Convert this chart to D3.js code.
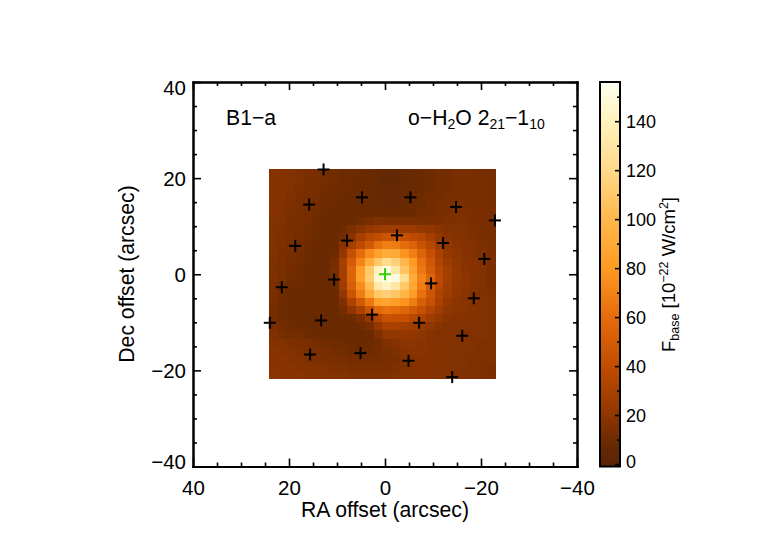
<!DOCTYPE html>
<html>
<head>
<meta charset="utf-8">
<script src="https://d3js.org/d3.v7.min.js"></script>
<style>
  body { margin: 0; background: #fff; }
  text { font-family: "Liberation Sans", Arial, sans-serif; fill: #000; }
</style>
</head>
<body>
<svg id="draw" width="770" height="550"></svg>
<script>
// flux map, rows run top to bottom (north first), columns run RA high to low
const flux = [
  [17,17,16,15,14,13,12,11,10,10,9,8,7,6,6,7,8,9,10,11,12,13,14,13,12,12],
  [17,17,16,15,14,13,12,11,10,9,9,8,7,6,6,7,8,9,10,11,12,13,14,13,13,12],
  [17,17,16,14,14,13,11,10,10,9,8,8,7,7,7,8,8,9,10,11,12,13,14,14,13,12],
  [17,17,15,14,13,12,10,10,9,9,8,8,7,7,7,8,9,10,11,12,13,14,14,14,13,12],
  [17,16,15,14,13,11,10,9,9,8,8,8,8,7,7,8,9,10,12,13,14,14,14,14,13,12],
  [17,16,15,13,12,11,9,9,8,8,8,8,9,9,9,9,9,11,12,13,14,15,15,14,14,13],
  [16,16,14,13,12,10,9,8,8,8,11,13,15,14,14,14,14,14,14,14,15,15,15,14,14,13],
  [16,15,14,13,11,10,8,8,10,14,18,22,24,26,26,25,24,22,20,18,16,16,16,15,14,13],
  [16,15,14,12,11,9,8,8,11,18,28,36,40,45,45,42,38,35,28,22,18,17,16,15,14,13],
  [16,15,13,12,10,9,8,9,18,28,38,48,62,68,66,60,54,44,35,26,20,18,17,16,15,13],
  [16,14,13,11,10,8,8,10,22,42,60,74,84,92,90,78,68,55,42,30,22,19,17,16,15,14],
  [15,14,12,11,9,8,8,12,28,50,70,92,110,122,114,100,80,62,48,33,25,20,18,17,15,14],
  [15,14,12,10,9,8,8,14,28,55,82,110,140,152,130,108,85,65,50,36,28,21,18,17,16,14],
  [15,13,11,10,9,8,8,12,28,55,84,112,146,155,150,124,92,70,55,38,28,22,19,17,16,14],
  [14,12,10,9,8,8,8,10,26,52,74,102,132,142,130,110,88,68,50,36,26,21,19,17,16,14],
  [14,11,9,9,8,8,8,9,20,45,68,90,110,114,108,98,82,62,46,32,25,20,18,17,16,15],
  [13,10,9,8,8,8,8,8,15,32,48,65,84,86,82,78,68,52,42,30,22,19,18,17,16,15],
  [12,10,9,8,8,8,8,8,12,20,30,45,58,62,60,56,50,42,33,26,20,18,18,17,16,15],
  [12,10,9,8,8,8,8,8,9,10,14,22,35,44,42,42,36,32,26,22,18,17,17,17,16,15],
  [13,11,10,9,8,8,8,8,8,9,10,13,22,30,30,28,26,24,20,18,16,16,16,16,16,15],
  [15,13,12,11,10,9,9,8,8,8,8,9,15,20,21,22,21,19,17,16,16,16,16,16,16,15],
  [17,16,15,14,13,12,11,10,10,9,8,9,11,15,17,19,19,18,17,16,16,16,16,16,15,15],
  [18,17,16,15,14,14,13,12,11,10,10,10,11,13,15,17,18,18,17,17,16,16,16,16,15,15],
  [18,18,17,16,15,15,14,14,13,12,12,12,12,13,14,16,17,17,17,17,16,16,16,15,15,15],
  [18,18,18,17,17,16,16,15,15,14,14,14,14,14,15,16,17,17,17,17,16,16,16,15,15,14],
  [19,18,18,18,17,17,17,16,16,15,15,15,15,15,16,16,17,17,17,16,16,16,15,15,15,14]
];

// pointing offsets of the spaxels, arcsec
const spaxelRA = [12.8,4.8,-5.3,15.8,-14.8,-22.9,-2.5,7.9,-12.1,18.7,-20.7,10.6,-9.6,21.5,-18.5,2.7,13.3,-7.1,24,-16.1,5.1,15.6,-4.9,-14];
const spaxelDec = [21.8,16,16,14.5,14,11.2,8.1,7,6.5,5.9,3.2,-1.1,-1.9,-2.7,-5,-8.4,-9.6,-10.1,-10.1,-12.8,-16.4,-16.7,-18,-21.4];
const centreRA = [0];
const centreDec = [0];

const mapRA = [24.2, -23.1];
const mapDec = [22, -21.8];

const axisMajor = [40, 20, 0, -20, -40];
const axisMinor = d3.range(-35, 40, 5).filter(d => d % 20 != 0);
const barMajor = [0, 20, 40, 60, 80, 100, 120, 140];
const barMinor = [10, 30, 50, 70, 90, 110, 130, 150];

const colourValues = [-1, 6, 10, 15, 20, 40, 60, 80, 100, 120, 140, 156];
const colourStops = ["#5a2508", "#622804", "#6f2b00", "#7e3000", "#903600", "#c24c00", "#e56c0c", "#ff9a22", "#ffb84c", "#ffd98a", "#fff2bd", "#fffff0"];

const fmt = d => String(d).replace("-", "\u2212");

const svg = d3.select("#draw");

const x = d3.scaleLinear().domain([40, -40]).range([193, 577]);
const y = d3.scaleLinear().domain([40, -40]).range([82, 466.5]);
const colour = d3.scaleLinear().domain(colourValues).range(colourStops);

// heat map
const nCols = flux[0].length, nRows = flux.length;
const raStep = (mapRA[1] - mapRA[0]) / nCols;
const decStep = (mapDec[1] - mapDec[0]) / nRows;

flux.forEach(function(row, r) {
  svg.append("g").selectAll("rect")
    .data(row)
    .enter().append("rect")
    .attr("x", (d, c) => x(mapRA[0] + c * raStep))
    .attr("y", y(mapDec[0] + r * decStep))
    .attr("width", x(mapRA[0] + raStep) - x(mapRA[0]) + 0.4)
    .attr("height", y(mapDec[0] + decStep) - y(mapDec[0]) + 0.4)
    .attr("fill", d => colour(d))
    .attr("shape-rendering", "crispEdges");
});

// crosses
function crosses(ra, dec, col, sw) {
  const g = svg.append("g").attr("stroke", col).attr("stroke-width", sw);
  ra.forEach(function(d, i) {
    g.append("line").attr("x1", x(d) - 6).attr("x2", x(d) + 6).attr("y1", y(dec[i])).attr("y2", y(dec[i]));
    g.append("line").attr("x1", x(d)).attr("x2", x(d)).attr("y1", y(dec[i]) - 6).attr("y2", y(dec[i]) + 6);
  });
}
crosses(spaxelRA, spaxelDec, "#000", 2);
crosses(centreRA, centreDec, "#2ed200", 2);

// axes, four sides, ticks pointing in
function drawAxis(maker, scale, tx, ty, size, labelled) {
  const g = svg.append("g").attr("transform", "translate(" + tx + "," + ty + ")");
  g.call(maker(scale).tickValues(axisMajor).tickSize(size).tickSizeOuter(0).tickFormat(labelled ? fmt : ""));
  const minor = svg.append("g").attr("transform", "translate(" + tx + "," + ty + ")");
  minor.call(maker(scale).tickValues(axisMinor).tickSize(size / 2).tickSizeOuter(0).tickFormat(""));
  [g, minor].forEach(function(a) {
    a.selectAll("path").attr("stroke", "#000").attr("stroke-width", 2).attr("stroke-linecap", "square");
    a.selectAll("line").attr("stroke", "#000").attr("stroke-width", 1.6);
  });
  return g;
}

const bottom = drawAxis(d3.axisBottom, x, 0, 466.5, -8, true);
drawAxis(d3.axisTop, x, 0, 82, -8, false);
const left = drawAxis(d3.axisLeft, y, 193, 0, -8, true);
drawAxis(d3.axisRight, y, 577, 0, -8, false);

bottom.selectAll("text").attr("font-size", 20.5).attr("y", 0).attr("dy", null)
  .attr("transform", "translate(0,28)");
left.selectAll("text").attr("font-size", 20.5).attr("x", 0).attr("dy", null)
  .attr("text-anchor", "end")
  .attr("transform", d => "translate(-7," + (d == 40 ? 12.5 : d == -40 ? 2 : 7.5) + ")");

svg.append("text").attr("x", 385).attr("y", 517).attr("text-anchor", "middle")
  .attr("font-size", 21.2).text("RA offset (arcsec)");
svg.append("text").attr("transform", "translate(134,274) rotate(-90)").attr("text-anchor", "middle")
  .attr("font-size", 21.2).text("Dec offset (arcsec)");

// in-plot labels
svg.append("text").attr("x", 226).attr("y", 125).attr("font-size", 21.2).text("B1\u2212a");

function sub(t, s, shift) {
  t.append("tspan").attr("dy", shift).attr("font-size", 14).text(s);
}
const line = svg.append("text").attr("x", 408).attr("y", 125).attr("font-size", 21.2);
line.append("tspan").text("o\u2212H");
sub(line, "2", 4);
line.append("tspan").attr("dy", -4).text("O 2");
sub(line, "21", 4);
line.append("tspan").attr("dy", -4).text("\u22121");
sub(line, "10", 4);

// colour bar
const bar = d3.scaleLinear().domain([-1, 156]).range([466.5, 82]);
svg.append("g").selectAll("rect")
  .data(d3.range(-1, 156, 0.5))
  .enter().append("rect")
  .attr("x", 600)
  .attr("y", d => bar(d + 0.5))
  .attr("width", 20)
  .attr("height", d => bar(d) - bar(d + 0.5) + 0.4)
  .attr("fill", d => colour(d))
  .attr("shape-rendering", "crispEdges");

svg.append("rect").attr("x", 600).attr("y", 82).attr("width", 20).attr("height", 384.5)
  .attr("fill", "none").attr("stroke", "#000").attr("stroke-width", 2);

const barAxis = svg.append("g").attr("transform", "translate(620,0)")
  .call(d3.axisLeft(bar).tickValues(barMajor).tickSize(5).tickFormat(""));
const barMinorAxis = svg.append("g").attr("transform", "translate(620,0)")
  .call(d3.axisLeft(bar).tickValues(barMinor).tickSize(3).tickFormat(""));
[barAxis, barMinorAxis].forEach(function(a) {
  a.select("path").remove();
  a.selectAll("line").attr("stroke", "#000").attr("stroke-width", 1.6);
});

svg.append("g").selectAll("text")
  .data(barMajor)
  .enter().append("text")
  .attr("x", 626)
  .attr("y", d => d == 0 ? bar(d) + 3.5 : bar(d) + 6.5)
  .attr("font-size", 18)
  .text(d => d);

const barTitle = svg.append("text").attr("transform", "translate(675,352) rotate(-90)").attr("font-size", 18.5);
barTitle.append("tspan").text("F");
barTitle.append("tspan").attr("dy", 4).attr("font-size", 12.5).text("base");
barTitle.append("tspan").attr("dy", -4).text(" [10");
barTitle.append("tspan").attr("dy", -7).attr("font-size", 12.5).text("\u221222");
barTitle.append("tspan").attr("dy", 7).text(" W/cm");
barTitle.append("tspan").attr("dy", -7).attr("font-size", 12.5).text("2");
barTitle.append("tspan").attr("dy", 7).text("]");
</script>
</body>
</html>
